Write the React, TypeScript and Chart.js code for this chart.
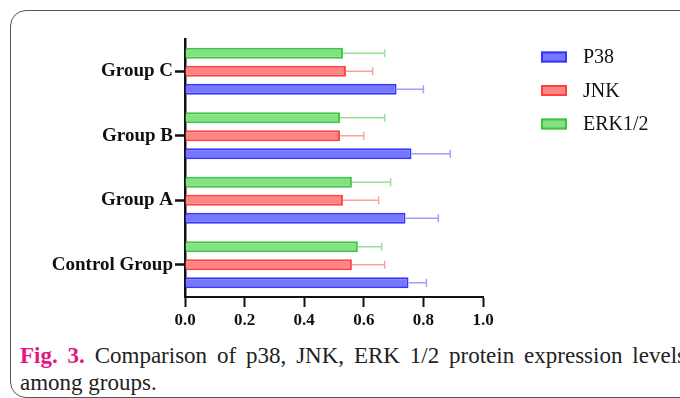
import React, { useEffect, useRef } from 'react';
import { Chart, registerables } from 'chart.js';

Chart.register(...registerables);

// Categories listed top to bottom as drawn
const categories = ['Group C', 'Group B', 'Group A', 'Control Group'];
const seriesNames = ['P38', 'JNK', 'ERK1/2'];
const p38Values = [0.71, 0.76, 0.74, 0.75];
const p38Errors = [0.09, 0.13, 0.11, 0.06];
const jnkValues = [0.54, 0.52, 0.53, 0.56];
const jnkErrors = [0.09, 0.08, 0.12, 0.11];
const erkValues = [0.53, 0.52, 0.56, 0.58];
const erkErrors = [0.14, 0.15, 0.13, 0.08];
const xTickValues = [0.0, 0.2, 0.4, 0.6, 0.8, 1.0];

const SERIF = "'Liberation Serif', 'Times New Roman', serif";

const colors = {
  P38: { fill: '#7676ff', border: '#3535ff', err: '#a0a0ff' },
  JNK: { fill: '#ff8585', border: '#ff4040', err: '#ffa0a0' },
  ERK: { fill: '#84e084', border: '#3fc43f', err: '#98e098' },
};

const errorBarPlugin = {
  id: 'errorBars',
  afterDatasetsDraw(chart: any) {
    const ctx = chart.ctx;
    const xScale = chart.scales.x;
    chart.data.datasets.forEach((ds: any, di: number) => {
      const meta = chart.getDatasetMeta(di);
      ctx.save();
      ctx.strokeStyle = ds.errorColor;
      ctx.lineWidth = 1.5;
      meta.data.forEach((bar: any, i: number) => {
        const v = ds.data[i];
        const e = ds.errors[i];
        const x0 = xScale.getPixelForValue(v);
        const x1 = xScale.getPixelForValue(v + e);
        const y = bar.y;
        ctx.beginPath();
        ctx.moveTo(x0, y);
        ctx.lineTo(x1, y);
        ctx.moveTo(x1, y - 4);
        ctx.lineTo(x1, y + 4);
        ctx.stroke();
      });
      ctx.restore();
    });
  },
};

const legendPlugin = {
  id: 'customLegend',
  afterDraw(chart: any) {
    const ctx = chart.ctx;
    // legend order: P38, JNK, ERK1/2 (datasets are stored top-down, so reverse)
    const order = [...chart.data.datasets].reverse();
    ctx.save();
    order.forEach((ds: any, i: number) => {
      const cy = 57 + i * 33.5;
      const bx = 541;
      const bw = 26;
      const bh = 11;
      ctx.fillStyle = ds.backgroundColor;
      ctx.fillRect(bx, cy - bh / 2, bw, bh);
      ctx.strokeStyle = ds.borderColor;
      ctx.lineWidth = 2;
      ctx.strokeRect(bx + 1, cy - bh / 2 + 1, bw - 2, bh - 2);
      ctx.fillStyle = '#111';
      ctx.font = `20px ${SERIF}`;
      ctx.textBaseline = 'middle';
      ctx.textAlign = 'left';
      ctx.fillText(ds.label, 583, cy + 1);
    });
    ctx.restore();
  },
};

export default function App() {
  const canvasRef = useRef<HTMLCanvasElement | null>(null);

  useEffect(() => {
    if (!canvasRef.current) return;
    const chart = new Chart(canvasRef.current, {
      type: 'bar',
      data: {
        labels: categories,
        datasets: [
          {
            label: seriesNames[2],
            data: erkValues,
            errors: erkErrors,
            errorColor: colors.ERK.err,
            backgroundColor: colors.ERK.fill,
            borderColor: colors.ERK.border,
            borderWidth: 2,
          } as any,
          {
            label: seriesNames[1],
            data: jnkValues,
            errors: jnkErrors,
            errorColor: colors.JNK.err,
            backgroundColor: colors.JNK.fill,
            borderColor: colors.JNK.border,
            borderWidth: 2,
          } as any,
          {
            label: seriesNames[0],
            data: p38Values,
            errors: p38Errors,
            errorColor: colors.P38.err,
            backgroundColor: colors.P38.fill,
            borderColor: colors.P38.border,
            borderWidth: 2,
          } as any,
        ],
      },
      options: {
        indexAxis: 'y',
        responsive: false,
        animation: false,
        devicePixelRatio: 1,
        categoryPercentage: 0.835,
        barPercentage: 0.61,
        layout: { padding: { left: 0, top: 39, right: 197, bottom: 0 } },
        plugins: {
          legend: { display: false },
          tooltip: { enabled: false },
        },
        scales: {
          x: {
            type: 'linear',
            min: 0,
            max: 1,
            afterBuildTicks: (scale: any) => {
              scale.ticks = xTickValues.map((v) => ({ value: v }));
            },
            afterFit: (scale: any) => {
              scale.height = 43;
            },
            ticks: {
              color: '#111',
              font: { family: SERIF, size: 17, weight: 'bold' },
              padding: 3,
              callback: (v: any) => Number(v).toFixed(1),
            },
            grid: {
              drawOnChartArea: false,
              drawTicks: true,
              tickLength: 10,
              tickWidth: 2,
              tickColor: '#111',
            },
            border: { display: true, color: '#111', width: 2 },
          },
          y: {
            type: 'category',
            afterFit: (scale: any) => {
              scale.width = 185;
            },
            ticks: {
              color: '#111',
              font: { family: SERIF, size: 19, weight: 'bold' },
              padding: 2,
            },
            grid: {
              offset: false,
              drawOnChartArea: false,
              drawTicks: true,
              tickLength: 10,
              tickWidth: 2.5,
              tickColor: '#111',
            },
            border: { display: true, color: '#111', width: 2.5 },
          },
        },
      } as any,
      plugins: [errorBarPlugin, legendPlugin],
    });
    return () => chart.destroy();
  }, []);

  return (
    <div
      style={{
        position: 'fixed',
        left: 0,
        top: 0,
        width: 680,
        height: 398,
        overflow: 'hidden',
        background: '#fff',
      }}
    >
      <div
        style={{
          position: 'absolute',
          left: 10,
          top: 10,
          width: 720,
          height: 388,
          border: '1px solid #555',
          borderRadius: 16,
          boxSizing: 'border-box',
        }}
      />
      <canvas
        ref={canvasRef}
        width={680}
        height={340}
        style={{ position: 'absolute', left: 0, top: 0, width: 680, height: 340 }}
      />
      <div
        style={{
          position: 'absolute',
          left: 20,
          top: 342,
          width: 666,
          fontFamily: SERIF,
          fontSize: 23,
          lineHeight: '27px',
          color: '#222',
          textAlign: 'justify',
        }}
      >
        <span style={{ color: '#e5167f', fontWeight: 'bold' }}>Fig. 3.</span> Comparison of p38, JNK, ERK 1/2 protein expression levels among groups.
      </div>
    </div>
  );
}
